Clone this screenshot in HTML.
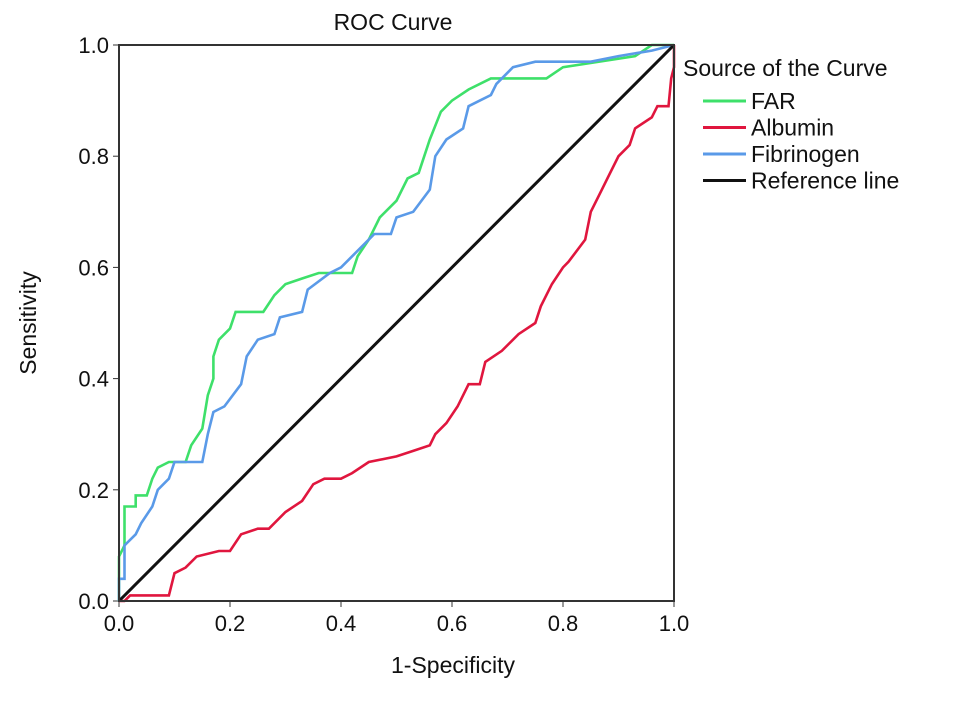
<!DOCTYPE html>
<html><head><meta charset="utf-8"><style>
body{margin:0;background:#fff;}
svg text{font-family:"Liberation Sans",Arial,sans-serif;fill:#111;}
</style></head><body>
<svg id="chart" width="969" height="700" viewBox="0 0 969 700">
<text x="393" y="30" font-size="23" text-anchor="middle">ROC Curve</text>
<g id="axes"></g>
<g id="series"></g>
<rect x="119" y="45" width="555" height="556" fill="none" stroke="#333" stroke-width="2"/>
<text x="453" y="673" font-size="23" text-anchor="middle">1-Specificity</text>
<text transform="translate(36,323) rotate(-90)" font-size="23" text-anchor="middle">Sensitivity</text>
<g>
<text x="683" y="76" font-size="23">Source of the Curve</text>
<g id="legend"></g>
</g>
</svg>
<script>
const ticks=[0,0.2,0.4,0.6,0.8,1.0];
const tickLabels=["0.0","0.2","0.4","0.6","0.8","1.0"];
const seriesNames=["FAR","Albumin","Fibrinogen","Reference line"];
const farPts=[[0,0],[0,0.08],[0.01,0.1],[0.01,0.17],[0.03,0.17],[0.03,0.19],[0.05,0.19],[0.06,0.22],[0.07,0.24],[0.09,0.25],[0.12,0.25],[0.13,0.28],[0.15,0.31],[0.16,0.37],[0.17,0.4],[0.17,0.44],[0.18,0.47],[0.2,0.49],[0.21,0.52],[0.26,0.52],[0.28,0.55],[0.3,0.57],[0.33,0.58],[0.36,0.59],[0.42,0.59],[0.43,0.62],[0.45,0.65],[0.47,0.69],[0.5,0.72],[0.52,0.76],[0.54,0.77],[0.56,0.83],[0.58,0.88],[0.6,0.9],[0.63,0.92],[0.67,0.94],[0.77,0.94],[0.8,0.96],[0.93,0.98],[0.96,1],[1,1]];
const albuminPts=[[0,0],[0.01,0],[0.02,0.01],[0.09,0.01],[0.1,0.05],[0.12,0.06],[0.14,0.08],[0.18,0.09],[0.2,0.09],[0.22,0.12],[0.25,0.13],[0.27,0.13],[0.3,0.16],[0.33,0.18],[0.35,0.21],[0.37,0.22],[0.4,0.22],[0.42,0.23],[0.45,0.25],[0.5,0.26],[0.53,0.27],[0.56,0.28],[0.57,0.3],[0.59,0.32],[0.61,0.35],[0.63,0.39],[0.65,0.39],[0.66,0.43],[0.69,0.45],[0.72,0.48],[0.75,0.5],[0.76,0.53],[0.78,0.57],[0.8,0.6],[0.81,0.61],[0.84,0.65],[0.85,0.7],[0.87,0.74],[0.88,0.76],[0.9,0.8],[0.92,0.82],[0.93,0.85],[0.96,0.87],[0.97,0.89],[0.99,0.89],[0.995,0.94],[1,0.96],[1,1]];
const fibrinogenPts=[[0,0],[0,0.04],[0.01,0.04],[0.01,0.1],[0.03,0.12],[0.04,0.14],[0.06,0.17],[0.07,0.2],[0.09,0.22],[0.1,0.25],[0.15,0.25],[0.16,0.3],[0.17,0.34],[0.19,0.35],[0.22,0.39],[0.23,0.44],[0.25,0.47],[0.28,0.48],[0.29,0.51],[0.33,0.52],[0.34,0.56],[0.38,0.59],[0.4,0.6],[0.42,0.62],[0.45,0.65],[0.46,0.66],[0.49,0.66],[0.5,0.69],[0.53,0.7],[0.56,0.74],[0.57,0.8],[0.59,0.83],[0.62,0.85],[0.63,0.89],[0.65,0.9],[0.67,0.91],[0.68,0.93],[0.71,0.96],[0.75,0.97],[0.85,0.97],[0.9,0.98],[0.96,0.99],[1,1]];
const refPts=[[0,0],[1,1]];

const NS="http://www.w3.org/2000/svg";
const X0=119,X1=674,Y0=601,Y1=45;
function sx(v){return X0+v*(X1-X0);}
function sy(v){return Y0-v*(Y0-Y1);}
const axes=document.getElementById('axes');
ticks.forEach((t,i)=>{
  let l=document.createElementNS(NS,'line');
  l.setAttribute('x1',sx(t));l.setAttribute('x2',sx(t));l.setAttribute('y1',Y0);l.setAttribute('y2',Y0+6);l.setAttribute('stroke','#333');
  
  
  axes.appendChild(l);
  let tx=document.createElementNS(NS,'text');
  tx.setAttribute('x',sx(t));tx.setAttribute('y',631);tx.setAttribute('font-size','22');tx.setAttribute('text-anchor','middle');
  tx.textContent=tickLabels[i];
  
  
  axes.appendChild(tx);
  let l2=document.createElementNS(NS,'line');
  l2.setAttribute('x1',X0-6);l2.setAttribute('x2',X0);l2.setAttribute('y1',sy(t));l2.setAttribute('y2',sy(t));l2.setAttribute('stroke','#333');
  
  
  axes.appendChild(l2);
  let ty=document.createElementNS(NS,'text');
  ty.setAttribute('x',X0-10);ty.setAttribute('y',sy(t)+8);ty.setAttribute('font-size','22');ty.setAttribute('text-anchor','end');
  ty.textContent=tickLabels[i];
  
  
  axes.appendChild(ty);
});
const colors=["#3ee06a","#e0163e","#5a9ae8","#111"];
const data=[farPts,albuminPts,fibrinogenPts,refPts];
const slugs=["far-curve","albumin-curve","fibrinogen-curve","reference-line"];
const g=document.getElementById('series');
[1,0,2,3].forEach(i=>{
  let p=document.createElementNS(NS,'polyline');
  p.setAttribute('points',data[i].map(d=>sx(d[0]).toFixed(1)+','+sy(d[1]).toFixed(1)).join(' '));
  p.setAttribute('fill','none');p.setAttribute('stroke',colors[i]);p.setAttribute('stroke-width',i==3?3:2.6);
  
  
  g.appendChild(p);
});
const lg=document.getElementById('legend');
seriesNames.forEach((n,i)=>{
  let y=101+i*26.5;
  let l=document.createElementNS(NS,'line');
  l.setAttribute('x1',703);l.setAttribute('x2',746);l.setAttribute('y1',y);l.setAttribute('y2',y);l.setAttribute('stroke',colors[i]);l.setAttribute('stroke-width',3);
  
  
  lg.appendChild(l);
  let t=document.createElementNS(NS,'text');
  t.setAttribute('x',751);t.setAttribute('y',y+8);t.setAttribute('font-size','23');
  t.textContent=n;
  
  
  lg.appendChild(t);
});
</script>
</body></html>
